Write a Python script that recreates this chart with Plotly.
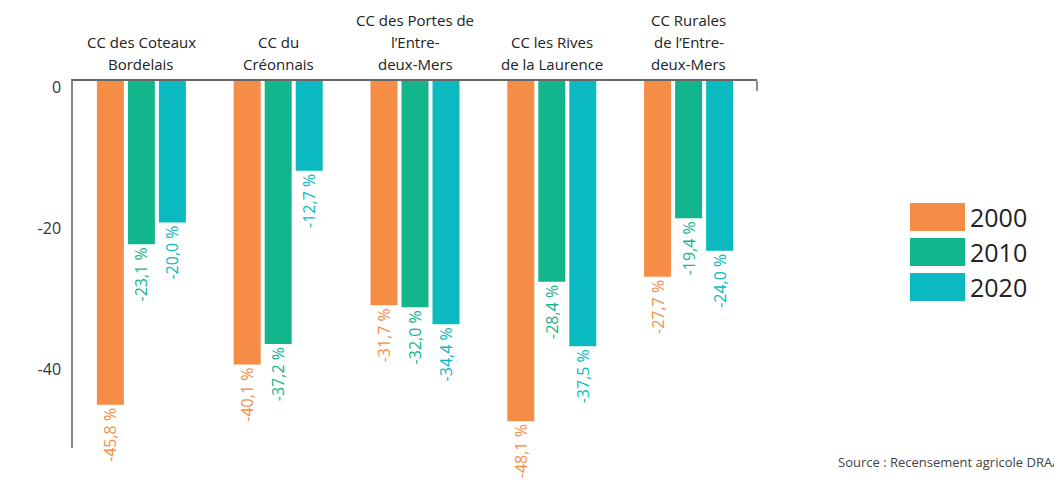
import plotly.graph_objects as go

categories = [
    "CC des Coteaux<br>Bordelais",
    "CC du<br>Créonnais",
    "CC des Portes de<br>l’Entre-<br>deux-Mers",
    "CC les Rives<br>de la Laurence",
    "CC Rurales<br>de l’Entre-<br>deux-Mers",
]
series_names = ["2000", "2010", "2020"]
values_2000 = [-45.8, -40.1, -31.7, -48.1, -27.7]
values_2010 = [-23.1, -37.2, -32.0, -28.4, -19.4]
values_2020 = [-20.0, -12.7, -34.4, -37.5, -24.0]
y_ticks = [0, -20, -40]
source_text = "Source : Recensement agricole DRAAF"

colors = ["#F58D47", "#13B58C", "#0BB9C0"]
series_values = [values_2000, values_2010, values_2020]

OFF = 8  # page body margin
W, H = 1062, 480
REF_L, REF_T, REF_R, REF_B = 73, 81, 757, 448
L = REF_L - OFF
T = REF_T - OFF
pw = REF_R - REF_L
ph = REF_B - REF_T
R = W - L - pw
B = H - T - ph

def px_x(x):
    return (x - REF_L) / pw

def px_y(y):
    return (REF_B - y) / ph

def fmt(v):
    return f"{v:.1f}".replace(".", ",") + " %"

fig = go.Figure()
for name, vals, col in zip(series_names, series_values, colors):
    fig.add_trace(go.Bar(
        x=list(range(len(categories))), y=vals, name=name,
        marker=dict(color=col, line=dict(width=0)),
        text=[fmt(v) for v in vals], textposition="outside",
        textangle=-90, constraintext="none", cliponaxis=False,
        textfont=dict(family="Open Sans", size=16, color=col),
        showlegend=False,
    ))

annotations = []
for i, cat in enumerate(categories):
    lines = cat.split("<br>")
    n = len(lines)
    for k, line in enumerate(lines):
        from_bottom = n - 1 - k
        cy = 64 - 22 * from_bottom
        annotations.append(dict(
            x=i, xref="x", y=px_y(cy), yref="paper", text=line,
            showarrow=False, xanchor="center", yanchor="middle",
            font=dict(family="Open Sans", size=15, color="#222222"),
        ))

shapes = []
legend_top = [203, 238, 273]
for name, col, top in zip(series_names, colors, legend_top):
    shapes.append(dict(type="rect", xref="paper", yref="paper",
                       x0=px_x(910), x1=px_x(965), y0=px_y(top + 28), y1=px_y(top),
                       fillcolor=col, line=dict(width=0)))
    annotations.append(dict(
        x=px_x(968), xref="paper", y=px_y(top + 14), yref="paper", text=name,
        showarrow=False, xanchor="left", yanchor="middle",
        font=dict(family="Open Sans", size=25, color="#222222"),
    ))

shapes.append(dict(type="line", xref="x domain", yref="paper",
                   x0=1, x1=1, y0=1, y1=px_y(REF_T + 10),
                   line=dict(color="#666666", width=1.5)))

annotations.append(dict(
    x=px_x(836), xref="paper", y=px_y(462), yref="paper", text=source_text,
    showarrow=False, xanchor="left", yanchor="middle",
    font=dict(family="Open Sans", size=13, color="#444444"),
))

fig.update_layout(
    width=W, height=H,
    margin=dict(l=L, r=R, t=T, b=B),
    paper_bgcolor="white", plot_bgcolor="white",
    barmode="group", bargap=0.32, bargroupgap=0.13,
    shapes=shapes, annotations=annotations,
    showlegend=False,
    xaxis=dict(
        range=[-0.5, len(categories) - 0.5], side="top",
        showticklabels=False, showgrid=False, zeroline=False,
        showline=True, linecolor="#666666", linewidth=1.5, ticks="",
    ),
    yaxis=dict(
        range=[-51.9, 0], tickvals=y_ticks, ticktext=[str(v) for v in y_ticks],
        showgrid=False, zeroline=False, showline=True,
        linecolor="#888888", linewidth=1.5, ticks="",
        ticklabelshift=6, ticklabelstandoff=7,
        tickfont=dict(family="Open Sans", size=16, color="#333333"),
    ),
)

fig.write_html("out.html")
